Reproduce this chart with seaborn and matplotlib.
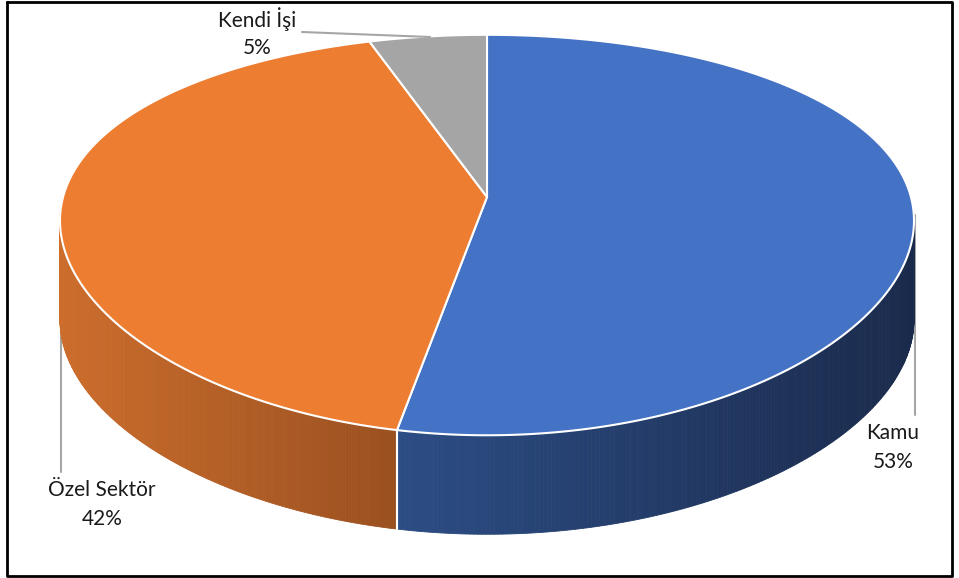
import numpy as np
import matplotlib
matplotlib.use("Agg")
import matplotlib.pyplot as plt
import seaborn as sns
from matplotlib.colors import to_rgb

# data
categories = ["Kamu", "Özel Sektör", "Kendi İşi"]
shares = [53, 42, 5]
top_colors = ["#4472C4", "#ED7D31", "#A5A5A5"]
side_left = ["#2c4d85", "#cc6d2c", "#8a8a8a"]
side_right = ["#1a2a4b", "#9a5020", "#6e6e6e"]

sns.set_theme(style="white")
plt.rcParams["font.family"] = ["Lato", "DejaVu Sans"]

# geometry of the tilted pie (pixels)
cx, cy = 487, 197
B, k = 193, 0.19
kx = 0.12
R = 427 * np.sqrt(1 - kx ** 2)
depth = 99


def top_xy(theta, dy=0.0):
    u, v = np.sin(theta), np.cos(theta)
    return cx + R * u / (1 + kx * v), cy - B * v / (1 + k * v) + dy


fig = plt.figure(figsize=(9.59, 5.78), dpi=100)
ax = fig.add_axes([0, 0, 1, 1])
ax.set_xlim(0, 959)
ax.set_ylim(578, 0)
ax.axis("off")

fracs = np.array(shares) / sum(shares)
bounds = np.concatenate([[0], np.cumsum(fracs)]) * 2 * np.pi
vis_lo, vis_hi = np.arccos(-kx) - 0.05, 2 * np.pi - np.arccos(-kx) + 0.05

# side walls (with horizontal gradient)
for i in range(len(shares)):
    a0, a1 = max(bounds[i], vis_lo), min(bounds[i + 1], vis_hi)
    if a1 <= a0:
        continue
    th = np.linspace(a0, a1, 200)
    xs, ys = top_xy(th)
    xb, yb = top_xy(th, depth)
    x_min, x_max = xs.min(), xs.max()
    c0, c1 = np.array(to_rgb(side_left[i])), np.array(to_rgb(side_right[i]))
    for j in range(len(th) - 1):
        t = ((xs[j] + xs[j + 1]) / 2 - x_min) / max(x_max - x_min, 1)
        col = c0 + (c1 - c0) * t
        ax.fill([xs[j], xs[j + 1], xb[j + 1], xb[j]],
                [ys[j], ys[j + 1], yb[j + 1], yb[j]],
                color=col, lw=0.6, ec=col, zorder=1)
    # white seam at slice boundary on the wall
    for a in (bounds[i], bounds[i + 1]):
        if vis_lo < a < vis_hi:
            x0, y0 = top_xy(a)
            ax.plot([x0, x0], [y0, y0 + depth], color="white", lw=1.5, zorder=2)

# top faces
for i in range(len(shares)):
    th = np.linspace(bounds[i], bounds[i + 1], 300)
    xs, ys = top_xy(th)
    ax.fill(np.concatenate([[cx], xs]), np.concatenate([[cy], ys]),
            color=top_colors[i], ec="white", lw=1.5, zorder=3)

# leader lines and labels
lead = "#a6a6a6"
ax.plot([302, 430], [32, 37], color=lead, lw=1.5, zorder=4)
ax.plot([915, 915], [215, 415], color=lead, lw=1.5, zorder=0)
ax.plot([61, 61], [215, 472], color=lead, lw=1.5, zorder=0)

label_pos = [(893, 433), (102, 490), (257, 19)]
for name, val, (lx, ly) in zip(categories, shares, label_pos):
    ax.text(lx, ly, name, ha="center", va="center", fontsize=15, color="#1a1a1a")
    ax.text(lx, ly + 29, f"{val}%", ha="center", va="center", fontsize=15, color="#1a1a1a")

# frame
ax.plot([7, 952, 952, 7, 7], [1.5, 1.5, 575.5, 575.5, 1.5], color="black", lw=2, zorder=5)

fig.savefig("out.png", dpi=100)
